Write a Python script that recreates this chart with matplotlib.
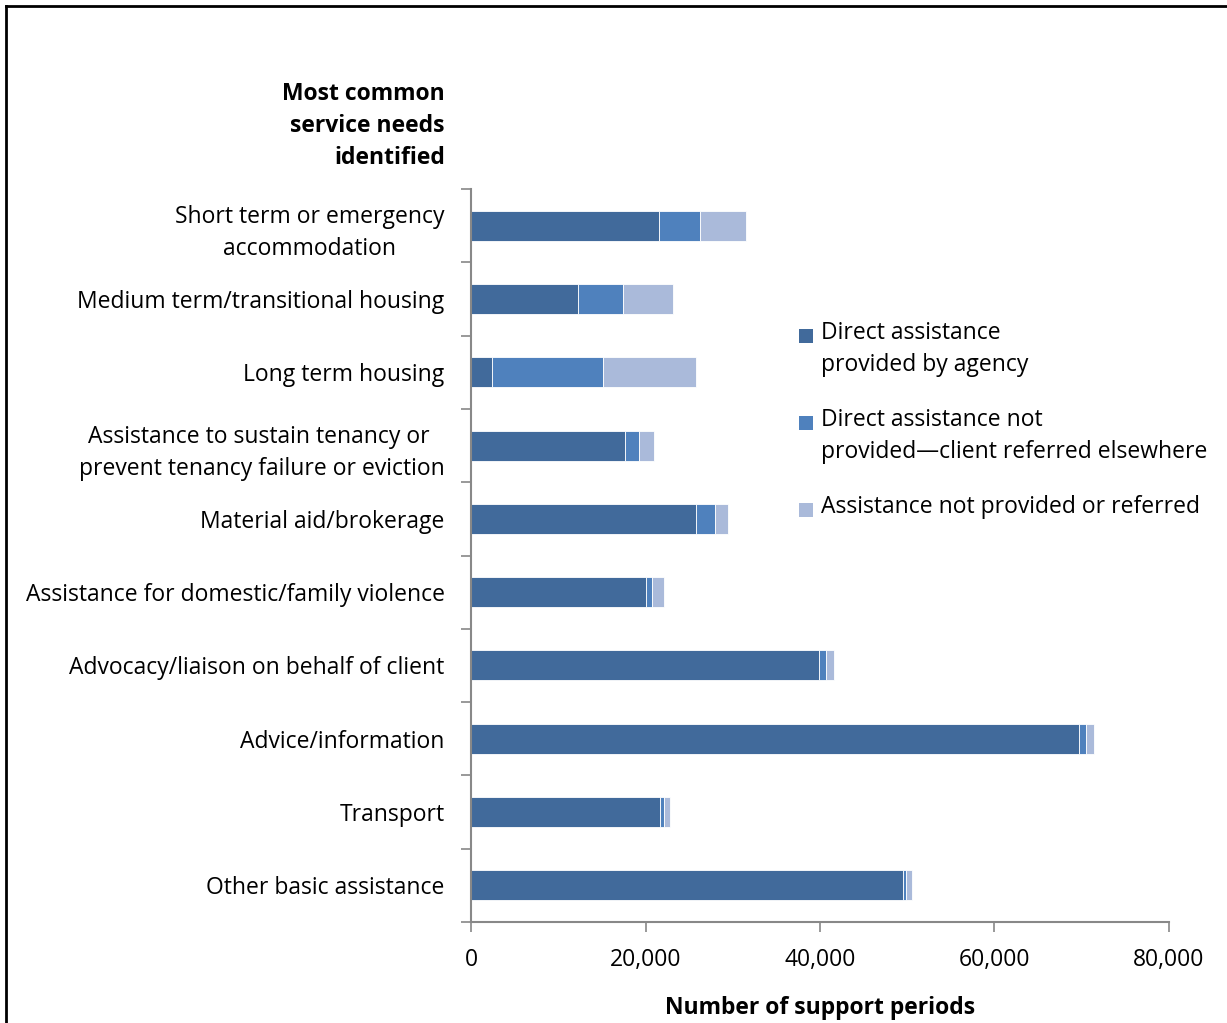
import matplotlib.pyplot as plt
import numpy as np
from matplotlib.patches import Rectangle
from matplotlib.lines import Line2D

plt.rcParams['font.family'] = ['Open Sans', 'DejaVu Sans']

# service needs, top to bottom
needs = [
    "Short term or emergency\naccommodation",
    "Medium term/transitional housing",
    "Long term housing",
    "Assistance to sustain tenancy or \nprevent tenancy failure or eviction",
    "Material aid/brokerage",
    "Assistance for domestic/family violence",
    "Advocacy/liaison on behalf of client",
    "Advice/information",
    "Transport",
    "Other basic assistance",
]
provided = [21600, 12300, 2400, 17600, 25800, 20000, 39900, 69700, 21700, 49500]
referred = [4700, 5100, 12700, 1600, 2200, 800, 800, 800, 400, 400]
not_provided = [5200, 5800, 10700, 1800, 1400, 1300, 900, 900, 700, 700]

series_labels = [
    "Direct assistance\nprovided by agency",
    "Direct assistance not\nprovided\u2014client referred elsewhere",
    "Assistance not provided or referred",
]
colors = ["#416A9B", "#4F81BD", "#AABADA"]
fs = 16.5
W, H = 1227, 1023

fig = plt.figure(figsize=(W / 100, H / 100), dpi=100)
ax = fig.add_axes([471 / W, 1 - 922 / H, 698 / W, 733 / H])

y = np.arange(len(needs))
left = np.zeros(len(needs))
for vals, c in zip([provided, referred, not_provided], colors):
    ax.barh(y, vals, left=left, height=0.41, color=c, edgecolor="white", linewidth=0.6)
    left += np.array(vals)

ax.set_ylim(len(needs) - 0.5, -0.5)
ax.set_xlim(0, 80000)
ax.set_xticks([0, 20000, 40000, 60000, 80000])
ax.set_xticklabels(["0", "20,000", "40,000", "60,000", "80,000"], fontsize=fs)
ax.set_yticks(y)
ax.set_yticklabels(needs, fontsize=fs, ha="right", multialignment="center", linespacing=1.45)
ax.tick_params(axis="y", length=0, pad=19)
ax.set_yticks(np.arange(-0.5, len(needs)), minor=True)
ax.tick_params(axis="y", which="minor", length=7, width=1.2, color="#888888")
ax.tick_params(axis="x", length=7, width=1.2, color="#888888", pad=12)

for s in ["top", "right"]:
    ax.spines[s].set_visible(False)
for s in ["left", "bottom"]:
    ax.spines[s].set_color("#888888")
    ax.spines[s].set_linewidth(1.5)

ax.set_xlabel("Number of support periods", fontsize=fs, fontweight="bold", labelpad=17)
fig.text(445 / W, 1 - 82 / H, "Most common\nservice needs\nidentified",
         fontsize=fs, fontweight="bold", ha="right", va="top", multialignment="right",
         linespacing=1.45)

# legend: square beside the first line of each entry
for label, c, top in zip(series_labels, colors, [321, 408, 495]):
    fig.add_artist(Rectangle((799 / W, 1 - (top + 22) / H), 14 / W, 14 / H,
                             transform=fig.transFigure, facecolor=c, edgecolor="none"))
    fig.text(821 / W, 1 - top / H, label, fontsize=fs, ha="left", va="top", linespacing=1.45)

# frame on top and left edges
fig.add_artist(Line2D([6 / W, 6 / W], [0, 1 - 6 / H], transform=fig.transFigure,
                      color="black", linewidth=2))
fig.add_artist(Line2D([6 / W, 1], [1 - 6 / H, 1 - 6 / H], transform=fig.transFigure,
                      color="black", linewidth=2))

fig.savefig("out.png", dpi=100)
